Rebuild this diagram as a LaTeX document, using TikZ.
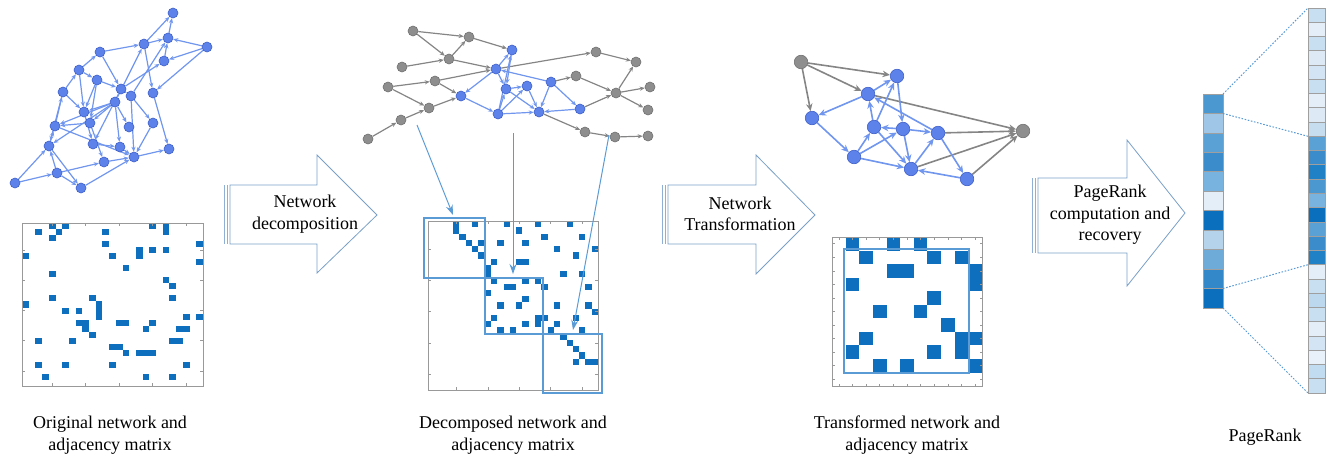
\documentclass[tikz,border=0pt]{standalone}
\usepackage{fontspec}
\setmainfont{Liberation Serif}
\usetikzlibrary{arrows.meta}
\definecolor{nb}{HTML}{5D82EA}
\definecolor{nbd}{HTML}{3D5FC9}
\definecolor{ng}{HTML}{8E8E8E}
\definecolor{ngd}{HTML}{707070}
\definecolor{eb}{HTML}{7096EE}
\definecolor{eg}{HTML}{858585}
\definecolor{mb}{HTML}{0E6FBF}
\definecolor{boxb}{HTML}{5B9BD5}
\definecolor{ab}{HTML}{7AA0C8}
\definecolor{abar}{HTML}{8FB0D4}
\pgfdeclarelayer{bg}
\pgfsetlayers{bg,main}
\begin{document}
\begin{tikzpicture}[x=1pt,y=-1pt,
 bn1/.style={circle,fill=nb,draw=nbd,line width=0.6pt,inner sep=0pt,minimum size=10pt},
 gn1/.style={bn1,fill=ng,draw=ngd},
 bn3/.style={bn1,minimum size=13.5pt},
 gn3/.style={gn1,minimum size=13.5pt},
 be/.style={draw=eb,line width=1.2pt,-{Stealth[length=5pt,width=4.2pt]}},
 ge/.style={be,draw=eg},
 be3/.style={draw=eb,line width=1.6pt,-{Stealth[length=7.5pt,width=6.5pt]}},
 ge3/.style={be3,draw=eg},
 mcell/.style={fill=mb},
 mframe/.style={draw=gray!80,line width=0.9pt},
 mtick/.style={draw=gray!80,line width=0.6pt},
 mbox/.style={draw=boxb,line width=1.8pt},
 ptr/.style={draw=boxb,line width=1pt,-{Stealth[length=10pt,width=7pt]}},
 barrow/.style={draw=ab,line width=0.8pt,fill=white},
 abarl/.style={draw=abar,line width=1.5pt},
 lbl/.style={font=\fontsize{18}{21.5}\selectfont,align=center,inner sep=0pt},
 dots/.style={draw=boxb,line width=1pt,dash pattern=on 1.6pt off 1.6pt},
 pcell/.style={draw=gray!75,line width=0.8pt}
]
\useasboundingbox (0,0) rectangle (1335,463);

% ---------------- Network 1 ----------------
\foreach \n/\x/\y in {1/173/13,2/168/38,3/207/47,4/144/44,5/164/61,6/100/52,7/79/70,8/97/80,9/153/93,10/63/92,11/121/89,12/131/96,13/115/102,14/84/112,15/153/123,16/90/123,17/129/127,18/55/126,19/49/146,20/93/144,21/120/147,22/169/149,23/134/157,24/104/162,25/57/173,26/15/183,27/81/188}
  \node[bn1] (a\n) at (\x,\y) {};
\begin{pgfonlayer}{bg}
\foreach \s/\t in {26/25,26/19,25/24,25/27,27/23,19/18,18/10,10/7,7/6,6/4,4/2,2/1,4/1,3/2,3/5,3/9,5/2,9/22,4/9,6/11,7/8,8/11,8/14,10/14,10/19,11/5,12/2,13/4,13/16,13/14,13/18,13/21,13/17,12/23,12/15,14/20,16/24,16/18,18/23,20/21,19/27,21/23,23/22,24/23,15/23,8/16,7/14,25/19,11/12,13/19,11/20}
  \draw[be] (a\s) -- (a\t);
\end{pgfonlayer}

% ---------------- Matrix 1 ----------------
\foreach \c/\r in {4/0,6/0,19/0,21/0,21/1,2/1,5/1,12/1,4/2,12/3,26/3,0/5,13/5,17/4,17/5,19/4,21/4,26/6,15/7,4/8,21/9,22/10,4/12,10/12,22/12,0/13,11/13,11/14,11/15,6/14,8/14,24/15,26/15,8/16,9/16,9/17,14/16,15/16,19/16,18/17,23/17,24/17,10/18,2/19,7/19,22/19,23/19,13/20,14/20,15/21,17/21,18/21,19/21,2/23,6/23,13/23,24/23,3/25,18/25,22/25}
  \fill[mcell] ({22+\c*6.704},{223+\r*6.037}) rectangle ++(6.704,6.037);
\draw[mframe] (22,223) rectangle (203,386);
\foreach \k in {1,...,5}{
  \draw[mtick] ({22+(5*\k-0.5)*6.704},223) -- ++(0,3);
  \draw[mtick] ({22+(5*\k-0.5)*6.704},386) -- ++(0,-3);
  \draw[mtick] (22,{223+(5*\k-0.5)*6.037}) -- ++(3,0);
  \draw[mtick] (203,{223+(5*\k-0.5)*6.037}) -- ++(-3,0);
}

% ---------------- Block arrow 1 ----------------
\draw[barrow] (230,185) -- (317,185) -- (317,155) -- (377,215) -- (317,273) -- (317,244) -- (230,244) -- cycle;
\draw[abarl] (224.5,185) -- (224.5,244);
\draw[abarl] (227.5,185) -- (227.5,244);
\node[lbl] (t1) at (305,214) {Network\\decomposition};

% ---------------- Network 2 ----------------
\foreach \n/\x/\y in {1/413/31,2/469/37,3/449/59,4/402/67,5/435/81,6/388/87,7/429/108,8/401/120,9/368/139,10/596/52,11/636/62,12/576/76,13/616/93,14/650/87,15/648/110,16/585/132,17/615/137,18/648/136}
  \node[gn1] (g\n) at (\x,\y) {};
\foreach \n/\x/\y in {1/512/50,2/496/69,3/461/96,4/506/89,5/527/86,6/551/82,7/498/114,8/539/112,9/580/109}
  \node[bn1] (c\n) at (\x,\y) {};
\begin{pgfonlayer}{bg}
\foreach \s/\t in {1/2,1/3,3/2,4/3,6/5,6/7,9/8,8/7,10/11,12/13,13/14,13/15,16/17,17/18}
  \draw[ge] (g\s) -- (g\t);
\draw[ge] (g13) -- (g11);
\draw[ge] (g2) -- (c1);
\draw[ge] (g3) -- (c2);
\draw[ge] (g5) -- (c2);
\draw[ge] (g5) -- (c3);
\draw[ge] (g7) -- (c3);
\draw[ge] (c2) -- (g10);
\draw[ge] (c6) -- (g12);
\draw[ge] (c9) -- (g13);
\draw[ge] (c8) -- (g16);
\foreach \s/\t in {2/1,1/4,2/3,3/7,2/4,6/2,4/5,7/4,7/8,7/5,4/8,5/8,6/8,6/9,9/8,7/1}
  \draw[be] (c\s) -- (c\t);
\end{pgfonlayer}

% ---------------- Matrix 2 ----------------
\foreach \c/\r in {4/0,4/1,7/0,12/0,17/0,22/0,14/1,5/2,18/2,24/2,6/3,8/3,11/3,15/3,7/4,20/4,26/4,8/5,23/5,10/6,14/6,15/6,9/7,9/8,21/8,24/8,10/9,12/10,13/10,15/9,17/9,18/10,25/10,9/11,15/12,11/13,14/13,20/13,25/13,26/14,10/15,17/15,17/16,18/15,9/16,15/16,20/16,23/15,11/17,13/17,19/17,24/17,21/18,22/19,23/20,24/21,23/22,25/22,26/22}
  \fill[mcell] ({428+\c*6.296},{221+\r*6.26}) rectangle ++(6.296,6.26);
\draw[mframe] (428,221) rectangle (598,390);
\foreach \k in {1,...,5}{
  \draw[mtick] ({428+(5*\k-0.5)*6.296},221) -- ++(0,3);
  \draw[mtick] ({428+(5*\k-0.5)*6.296},390) -- ++(0,-3);
  \draw[mtick] (428,{221+(5*\k-0.5)*6.26}) -- ++(3,0);
  \draw[mtick] (598,{221+(5*\k-0.5)*6.26}) -- ++(-3,0);
}
\draw[mbox] (424,218) rectangle (485,278);
\draw[mbox] (485,278) rectangle (543,334);
\draw[mbox] (543,334) rectangle (602,393);
\coordinate (p1s) at (417,125);
\coordinate (p1e) at (453,215);
\coordinate (p2s) at (513,133);
\coordinate (p2e) at (513,274);
\coordinate (p3s) at (609,135);
\coordinate (p3e) at (573,330);
\draw[ptr] (p1s) -- (p1e);
\draw[ptr] (p2s) -- (p2e);
\draw[ptr] (p3s) -- (p3e);

% ---------------- Block arrow 2 ----------------
\draw[barrow] (668,185) -- (756,185) -- (756,155) -- (815,215) -- (756,274) -- (756,244) -- (668,244) -- cycle;
\draw[abarl] (662.5,185) -- (662.5,244);
\draw[abarl] (665.5,185) -- (665.5,244);
\node[lbl] (t2) at (740,214) {Network\\Transformation};

% ---------------- Network 3 ----------------
\node[gn3] (h1) at (801,62) {};
\node[gn3] (h2) at (1023,131) {};
\foreach \n/\x/\y in {1/897/76,2/868/94,3/812/118,4/874/127,5/903/129,6/938/133,7/854/157,8/911/169,9/967/179}
  \node[bn3] (d\n) at (\x,\y) {};
\begin{pgfonlayer}{bg}
\draw[ge3] (h1) -- (d1);
\draw[ge3] (h1) -- (d2);
\draw[ge3] (h1) -- (d3);
\draw[ge3] (d2) -- (h2);
\draw[ge3] (d6) -- (h2);
\draw[ge3] (d8) -- (h2);
\draw[ge3] (d9) -- (h2);
\foreach \s/\t in {2/1,2/3,3/7,4/2,4/1,1/5,5/4,5/6,6/2,7/4,7/5,7/8,4/8,5/8,8/6,6/9,9/8}
  \draw[be3] (d\s) -- (d\t);
\end{pgfonlayer}

% ---------------- Matrix 3 ----------------
\foreach \c/\r in {1/0,4/0,6/0,2/1,7/1,9/1,4/2,5/2,10/2,10/3,1/3,7/4,3/5,6/5,8/6,2/7,9/7,9/8,10/7,1/8,7/8,3/9,5/9,10/9}
  \fill[mcell] ({832+\c*13.64},{237+\r*13.55}) rectangle ++(13.64,13.55);
\draw[mframe] (832,237) rectangle (982,386);
\foreach \k in {0,...,10}{
  \draw[mtick] ({832+(\k+0.5)*13.64},237) -- ++(0,2.5);
  \draw[mtick] ({832+(\k+0.5)*13.64},386) -- ++(0,-2.5);
  \draw[mtick] (832,{237+(\k+0.5)*13.55}) -- ++(2.5,0);
  \draw[mtick] (982,{237+(\k+0.5)*13.55}) -- ++(-2.5,0);
}
\draw[mbox] (844,249) rectangle (969,373);

% ---------------- Block arrow 3 ----------------
\draw[barrow] (1038,178) -- (1127,178) -- (1127,140) -- (1185,213) -- (1127,286) -- (1127,253) -- (1038,253) -- cycle;
\draw[abarl] (1032.5,178) -- (1032.5,253);
\draw[abarl] (1035.5,178) -- (1035.5,253);
\node[lbl] (t3) at (1110,215) {PageRank\\computation and\\recovery};

% ---------------- PageRank bars ----------------
\foreach \i/\col in {0/4A98CF,1/9FC6E6,2/5AA2D6,3/3A8CCB,4/78B3DF,5/E3EEF8,6/0A6FBD,7/B5D4EC,8/6EABD9,9/3388C9,10/0C6FBD}{
  \definecolor{tmpc}{HTML}{\col}
  \filldraw[pcell,fill=tmpc] (1203,{94+\i*19.45}) rectangle ++(20,19.45);
}
\foreach \i/\col in {0/C8DFF1,1/E3EEF8,2/C8DFF1,3/DDE9F5,4/D3E5F4,5/C8DFF1,6/E3EEF8,7/DDE9F5,8/C6DDF0,9/5AA2D6,10/3A8CCB,11/2181C6,12/4A98CF,13/78B3DF,14/0A6FBD,15/5AA2D6,16/3A8CCB,17/2181C6,18/E3EEF8,19/C8DFF1,20/BCD8EF,21/C8DFF1,22/E3EEF8,23/D3E5F4,24/E8F1F9,25/C1DBF0,26/C8DFF1}{
  \definecolor{tmpc}{HTML}{\col}
  \filldraw[pcell,fill=tmpc] (1308,{8+\i*14.26}) rectangle ++(17,14.26);
}
\coordinate (l0) at (1223,94);
\coordinate (l1) at (1223,113.45);
\coordinate (l10) at (1223,288.5);
\coordinate (l11) at (1223,308);
\coordinate (r0) at (1308,8);
\coordinate (r9) at (1308,136.3);
\coordinate (r18) at (1308,264.7);
\coordinate (r27) at (1308,393);
\draw[dots] (l0) -- (r0);
\draw[dots] (l1) -- (r9);
\draw[dots] (l10) -- (r18);
\draw[dots] (l11) -- (r27);

% ---------------- Labels ----------------
\node[lbl] (c1l) at (110,435) {Original network and\\adjacency matrix};
\node[lbl] (c2l) at (513,435) {Decomposed network and\\adjacency matrix};
\node[lbl] (c3l) at (907,435) {Transformed network and\\adjacency matrix};
\node[lbl] (c4l) at (1265,437) {PageRank};
\end{tikzpicture}
\end{document}
